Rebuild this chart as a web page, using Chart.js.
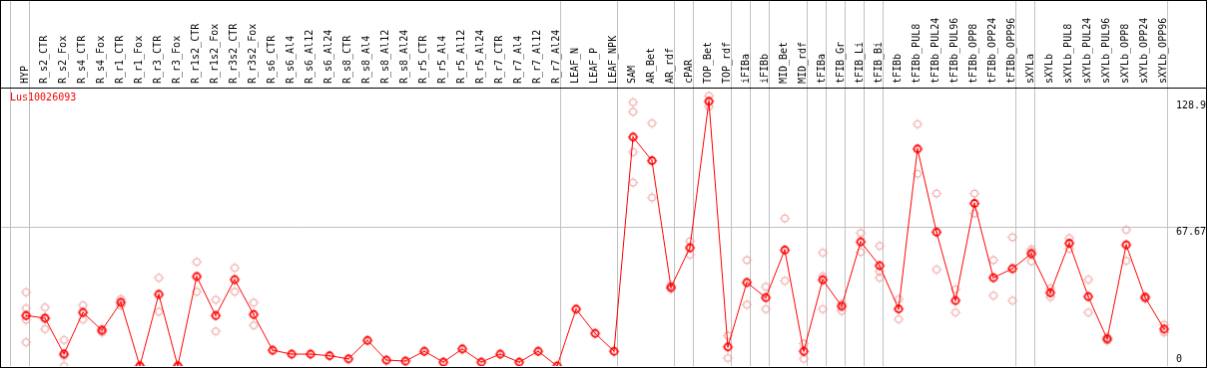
<!DOCTYPE html>
<html>
<head>
<meta charset="utf-8">
<script src="https://cdn.jsdelivr.net/npm/chart.js@4.4.1/dist/chart.umd.min.js"></script>
<style>
    body { margin: 0; background: #fff; }
    #chart-1 { display: block; border: 1px solid #000; }
</style>
</head>
<body>
<canvas id="chart-1" width="1207" height="368"></canvas>
<script>
const geneId = 'Lus10026093';

const categories = ['HYP', 'R_s2_CTR', 'R_s2_Fox', 'R_s4_CTR', 'R_s4_Fox', 'R_r1_CTR', 'R_r1_Fox',
    'R_r3_CTR', 'R_r3_Fox', 'R_r1s2_CTR', 'R_r1s2_Fox', 'R_r3s2_CTR', 'R_r3s2_Fox', 'R_s6_CTR',
    'R_s6_Al4', 'R_s6_Al12', 'R_s6_Al24', 'R_s8_CTR', 'R_s8_Al4', 'R_s8_Al12', 'R_s8_Al24',
    'R_r5_CTR', 'R_r5_Al4', 'R_r5_Al12', 'R_r5_Al24', 'R_r7_CTR', 'R_r7_Al4', 'R_r7_Al12', 'R_r7_Al24',
    'LEAF_N', 'LEAF_P', 'LEAF_NPK', 'SAM', 'AR_Bet', 'AR_rdf', 'cPAR', 'TOP_Bet', 'TOP_rdf',
    'iFIBa', 'iFIBb', 'MID_Bet', 'MID_rdf', 'tFIBa', 'tFIB_Gr', 'tFIB_Li', 'tFIB_Bi', 'tFIBb',
    'tFIBb_PUL8', 'tFIBb_PUL24', 'tFIBb_PUL96', 'tFIBb_OPP8', 'tFIBb_OPP24', 'tFIBb_OPP96',
    'sXYLa', 'sXYLb', 'sXYLb_PUL8', 'sXYLb_PUL24', 'sXYLb_PUL96', 'sXYLb_OPP8', 'sXYLb_OPP24', 'sXYLb_OPP96'];

const means = [24.6, 23.3, 5.9, 26.1, 17.4, 31.0, 0, 34.9, 0, 43.6, 24.6, 42.1, 25.1, 7.7,
    5.8, 5.8, 5.0, 3.5, 12.5, 2.9, 2.4, 7.2, 1.9, 8.3, 1.9, 5.8, 1.9, 7.2, 0,
    27.7, 15.9, 7.2, 111.5, 100.0, 38.3, 57.6, 128.9, 9.3,
    40.7, 33.3, 56.5, 7.2, 42.0, 29.1, 60.5, 48.9, 27.8,
    105.7, 65.2, 31.9, 79.2, 43.0, 47.4,
    54.7, 35.7, 59.8, 33.8, 13.2, 59.0, 33.4, 18.0];

const replicates = [
    [35.9, 28.1, 22.5, 11.6], [28.6, 23.3, 18.0], [12.7, 5.0, 0], [29.6, 22.7], [18.1, 16.4],
    [32.6, 29.4], [0, 0], [43.0, 26.5], [0, 0], [50.7, 36.2], [32.3, 16.9], [47.8, 36.2], [30.9, 19.8],
    [], [], [], [], [], [], [], [], [], [], [], [], [], [], [], [],
    [], [], [], [128.4, 123.8, 104.2, 89.3], [118.2, 82.0], [39.2, 37.6], [60.8, 54.2], [131.5, 126.3],
    [14.8, 3.9], [51.6, 29.9], [38.6, 27.7], [71.9, 41.5], [10.9, 3.5], [55.2, 43.7, 27.7],
    [30.2, 26.8], [64.8, 55.5], [58.5, 46.1, 43.0], [32.5, 22.8],
    [117.8, 93.6], [84.0, 47.0], [37.3, 26.1], [84.0, 74.3], [51.6, 34.3], [62.7, 31.9],
    [56.8, 55.6, 51.0], [37.8, 33.6], [62.3, 57.1], [42.1, 26.1], [14.0, 12.4], [66.3, 51.3],
    [34.0, 32.8], [20.1, 16.4]];

// index of the first category of each column group (gray separators)
const groupStarts = [0, 1, 29, 32, 35, 36, 38, 39, 40, 42, 43, 44, 45, 46, 53, 54, 61];
const yTickValues = [67.67, 128.9];
const yZeroTick = [0];

const meanColor = '#ff0000';
const repColor = '#ec9494';
const gridGray = '#c0c0c0';
const monoFont = { family: "'DejaVu Sans Mono', monospace", size: 10 };

function makeMarker(color, lw, dot) {
    const c = document.createElement('canvas');
    c.width = 13;
    c.height = 13;
    const g = c.getContext('2d');
    g.strokeStyle = color;
    g.lineWidth = lw;
    g.beginPath();
    g.arc(6.5, 6.5, 3.5, 0, Math.PI * 2);
    g.stroke();
    g.fillStyle = color;
    // small tick marks at N, S, W, E
    g.fillRect(6, 1.5, 1, 1);
    g.fillRect(6, 10.5, 1, 1);
    g.fillRect(1.5, 6, 1, 1);
    g.fillRect(10.5, 6, 1, 1);
    if (dot) {
        g.fillRect(6, 5.5, 1, 2);
    }
    return c;
}

const meanPoints = means.map((v, i) => ({ x: i, y: v }));
const repPoints = [];
replicates.forEach((list, i) => list.forEach(v => repPoints.push({ x: i, y: v })));

const boundaryTicks = groupStarts.map(s => ({ value: s - 0.79 }));
const labelTicks = categories.map((c, i) => ({ value: i }));
const isBoundary = v => !Number.isInteger(v);

const noPadding = (scale) => {
    scale.paddingLeft = 0;
    scale.paddingRight = 0;
    scale.paddingTop = 0;
    scale.paddingBottom = 0;
};

const geneLabel = {
    id: 'geneLabel',
    afterDraw(chart) {
        const c = chart.ctx;
        const area = chart.chartArea;
        c.save();
        c.fillStyle = meanColor;
        c.font = "10px 'DejaVu Sans Mono', monospace";
        c.textBaseline = 'middle';
        c.fillText(geneId, area.left + 9, area.top + 10);
        c.restore();
    }
};

const data = {
    datasets: [
        {
            label: geneId,
            data: meanPoints,
            borderColor: meanColor,
            borderWidth: 1,
            pointStyle: makeMarker(meanColor, 1.8, true),
            tension: 0
        },
        {
            label: 'replicates',
            data: repPoints,
            showLine: false,
            borderColor: repColor,
            pointStyle: makeMarker(repColor, 1, false)
        }
    ]
};

const config = {
    type: 'line',
    data: data,
    options: {
        responsive: false,
        animation: false,
        devicePixelRatio: 1,
        layout: { autoPadding: false, padding: { left: 0, right: 0, top: 0, bottom: 1 } },
        plugins: {
            legend: { display: false },
            tooltip: { enabled: false }
        },
        scales: {
            x: {
                type: 'linear',
                position: 'top',
                min: -1.3158,
                max: 62.2105,
                afterBuildTicks: (scale) => {
                    scale.ticks = boundaryTicks.concat(labelTicks).sort((a, b) => a.value - b.value);
                },
                afterFit: (scale) => {
                    scale.height = 87;
                    noPadding(scale);
                },
                grid: {
                    color: (ctx) => ctx.tick && isBoundary(ctx.tick.value) ? gridGray : 'rgba(0,0,0,0)',
                    tickColor: (ctx) => ctx.tick && isBoundary(ctx.tick.value) ? gridGray : 'rgba(0,0,0,0)',
                    tickLength: 87,
                    lineWidth: 1
                },
                border: { display: true, color: '#000', width: 1 },
                ticks: {
                    autoSkip: false,
                    minRotation: 90,
                    maxRotation: 90,
                    padding: -83,
                    labelOffset: 11,
                    color: '#000',
                    font: monoFont,
                    callback: (v) => isBoundary(v) ? '' : categories[v]
                }
            },
            y: {
                type: 'linear',
                position: 'right',
                min: 0,
                max: 135.6,
                afterBuildTicks: (scale) => {
                    scale.ticks = yTickValues.map(v => ({ value: v }));
                },
                afterFit: noPadding,
                grid: {
                    color: (ctx) => ctx.tick && ctx.tick.value === 67.67 ? gridGray : 'rgba(0,0,0,0)',
                    drawTicks: false
                },
                border: { display: false },
                ticks: {
                    mirror: true,
                    padding: 0,
                    labelOffset: 5,
                    color: '#000',
                    font: monoFont,
                    callback: (v) => String(v)
                }
            },
            y0: {
                type: 'linear',
                position: 'right',
                min: 0,
                max: 135.6,
                afterBuildTicks: (scale) => {
                    scale.ticks = yZeroTick.map(v => ({ value: v }));
                },
                afterFit: noPadding,
                grid: { display: false, drawTicks: false },
                border: { display: false },
                ticks: {
                    mirror: true,
                    padding: 0,
                    labelOffset: -7,
                    color: '#000',
                    font: monoFont,
                    // left-aligned with the other labels (monospace column)
                    callback: (v) => String(v).padEnd(5, ' ')
                }
            }
        }
    },
    plugins: [geneLabel]
};

const ctx = document.getElementById('chart-1').getContext('2d');
new Chart(ctx, config);
</script>
</body>
</html>
